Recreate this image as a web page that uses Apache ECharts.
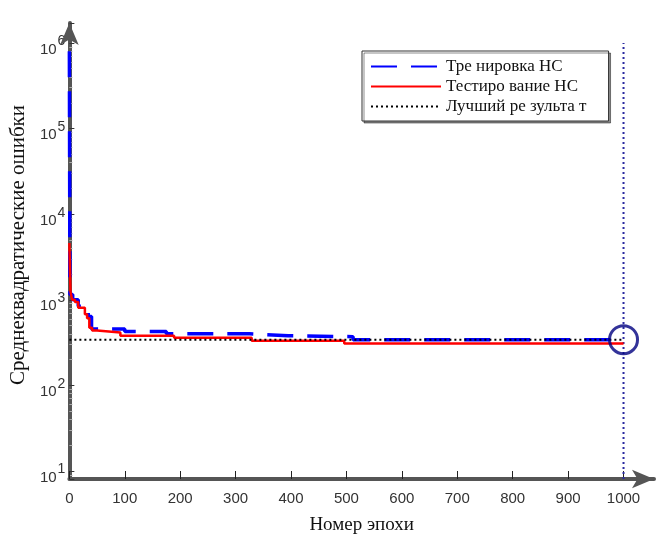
<!DOCTYPE html>
<html>
<head>
<meta charset="utf-8">
<script src="https://cdn.jsdelivr.net/npm/echarts@6/dist/echarts.min.js"></script>
<style>
html,body{margin:0;padding:0;background:#fff;}
#chart{width:667px;height:541px;}
</style>
</head>
<body>
<div id="chart"></div>
<script>
// ---- data ----
const xTickValues = [0, 100, 200, 300, 400, 500, 600, 700, 800, 900, 1000];
const seriesNames = ['Тре нировка НС', 'Тестиро вание НС', 'Лучший ре зульта т'];
const xAxisTitle = 'Номер эпохи';
const yAxisTitle = 'Среднеквадратические ошибки';

// training (blue dashed) – value held from each epoch until the next one
const trainEpochs = [0, 1, 6, 16, 30, 34, 40, 100, 175, 325, 395, 512, 1000];
const trainValues = [800000, 1150, 1000, 840, 780, 640, 455, 427, 400, 380, 371, 342, 342];

// testing (red)
const testEpochs = [0, 2, 5, 10, 16, 28, 32, 36, 41, 50, 92, 189, 329, 496, 1000];
const testValues = [4600, 1250, 1000, 940, 810, 680, 610, 470, 437, 415, 380, 360, 332, 309, 309];

// best result (black dotted)
const bestEpochs = [0, 1000];
const bestValues = [342, 342];

// best-epoch marker
const markEpoch = [1000];
const markValue = [342];
const markLineValues = [8.07, 1000000];

const yMin = 8.07, yMax = 1710000, xMin = 0, xMax = 1055;

const zip = (a, b) => a.map((v, i) => [v, b[i]]);

const chart = echarts.init(document.getElementById('chart'), null, {renderer: 'canvas'});
const axisColor = '#555';
const option = {
  animation: false,
  backgroundColor: '#fff',
  grid: {left: 67, right: 13, top: 23, bottom: 62, containLabel: false},
  legend: {
    data: seriesNames,
    orient: 'vertical',
    left: 362, top: 51,
    itemWidth: 70, itemHeight: 14, itemGap: 3,
    padding: [7, 22, 6, 8],
    backgroundColor: '#fff',
    borderColor: '#333', borderWidth: 1,
    shadowColor: 'rgba(0,0,0,0.45)', shadowOffsetX: 2, shadowOffsetY: 2, shadowBlur: 0,
    itemStyle: {opacity: 0},
    textStyle: {fontFamily: 'Liberation Serif', fontSize: 17, color: '#111'}
  },
  xAxis: {
    type: 'value', min: xMin, max: xMax,
    name: xAxisTitle, nameLocation: 'middle', nameGap: 37,
    nameTextStyle: {fontFamily: 'Liberation Serif', fontSize: 19, color: '#111'},
    axisLine: {lineStyle: {color: axisColor, width: 4}, symbol: ['none', 'arrow'], symbolSize: [14, 22]},
    axisTick: {inside: true, length: 8, customValues: xTickValues, lineStyle: {color: '#222', width: 1}},
    axisLabel: {
      customValues: xTickValues, margin: 12,
      formatter: function (v) { return String(v); },
      fontFamily: 'Liberation Sans', fontSize: 15, color: '#333'
    },
    splitLine: {show: false}
  },
  yAxis: {
    type: 'log', logBase: 10, min: yMin, max: yMax,
    name: yAxisTitle, nameLocation: 'middle', nameGap: 36,
    nameTextStyle: {fontFamily: 'Liberation Serif', fontSize: 21, color: '#111', padding: [0, 0, 0, 12]},
    axisLine: {lineStyle: {color: axisColor, width: 4}, symbol: ['none', 'arrow'], symbolSize: [14, 22]},
    axisTick: {inside: true, length: 5, lineStyle: {color: '#333', width: 1}},
    minorTick: {show: true, splitNumber: 9, length: 3, lineStyle: {color: '#aaa', width: 1}},
    axisLabel: {
      margin: 4,
      formatter: function (v) {
        const e = Math.log10(v), r = Math.round(e);
        if (Math.abs(e - r) > 1e-6) return '';
        return '{b|10}{s|' + r + '}';
      },
      rich: {
        b: {fontFamily: 'Liberation Sans', fontSize: 15, color: '#333', padding: [13, 0, 0, 0]},
        s: {fontFamily: 'Liberation Sans', fontSize: 14, color: '#333', padding: [0, 0, 3, 1]}
      }
    },
    splitLine: {show: false}
  },
  series: [
    {
      name: seriesNames[0], type: 'line', step: 'end', symbol: 'none', z: 3,
      data: zip(trainEpochs, trainValues),
      lineStyle: {color: '#0000ff', width: 3.5, type: [26, 14]},
      itemStyle: {color: '#0000ff'}
    },
    {
      name: seriesNames[1], type: 'line', step: 'end', symbol: 'none', z: 4,
      data: zip(testEpochs, testValues),
      lineStyle: {color: '#ff0000', width: 2.5, type: 'solid'},
      itemStyle: {color: '#ff0000'}
    },
    {
      name: seriesNames[2], type: 'line', symbol: 'none', z: 5,
      data: zip(bestEpochs, bestValues),
      lineStyle: {color: '#000', width: 2, type: [2, 3]},
      itemStyle: {color: '#000'}
    },
    {
      name: 'bestEpochLine', type: 'line', symbol: 'none', z: 2,
      data: zip([markEpoch[0], markEpoch[0]], markLineValues),
      lineStyle: {color: '#2a2aa0', width: 2, type: [2, 3]}
    },
    {
      name: 'bestEpochMark', type: 'scatter', symbol: 'circle', symbolSize: 28, z: 6,
      data: zip(markEpoch, markValue),
      itemStyle: {color: 'rgba(0,0,0,0)', borderColor: '#000080', borderWidth: 3}
    }
  ]
};
chart.setOption(option);
</script>
</body>
</html>
